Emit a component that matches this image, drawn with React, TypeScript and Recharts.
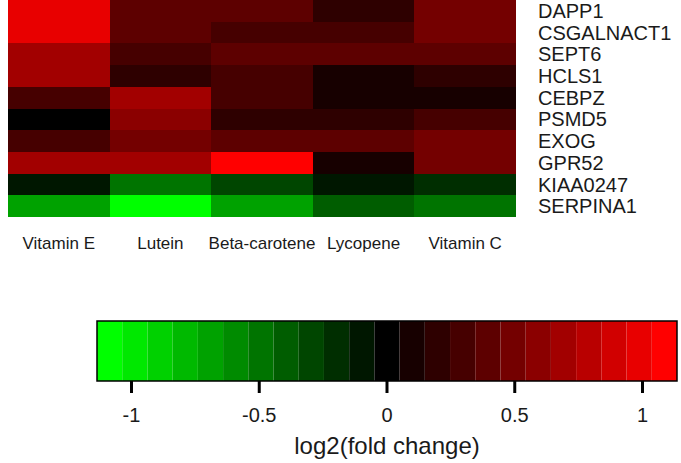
import {
  Bar,
  BarChart,
  Cell,
  ComposedChart,
  Label,
  ReferenceArea,
  XAxis,
  YAxis,
} from "recharts";

const COMPOUNDS = ["Vitamin E", "Lutein", "Beta-carotene", "Lycopene", "Vitamin C"];
const GENES = [
  "DAPP1",
  "CSGALNACT1",
  "SEPT6",
  "HCLS1",
  "CEBPZ",
  "PSMD5",
  "EXOG",
  "GPR52",
  "KIAA0247",
  "SERPINA1",
];

// log2 fold change, one list per compound, in gene order
const VITAMIN_E = [0.99, 0.99, 0.69, 0.69, 0.28, 0, 0.28, 0.69, -0.1, -0.69];
const LUTEIN = [0.4, 0.4, 0.3, 0.2, 0.69, 0.6, 0.5, 0.69, -0.5, -1.1];
const BETA_CAROTENE = [0.4, 0.3, 0.4, 0.3, 0.3, 0.2, 0.4, 1.1, -0.3, -0.69];
const LYCOPENE = [0.2, 0.3, 0.4, 0.1, 0.1, 0.2, 0.4, 0.1, -0.1, -0.4];
const VITAMIN_C = [0.5, 0.5, 0.4, 0.2, 0.1, 0.3, 0.5, 0.5, -0.2, -0.5];

const SCALE_TICKS = [-1, -0.5, 0, 0.5, 1];
const SCALE_MAX = 1.135;
const SCALE_STEPS = 23;

const FONT = "'Liberation Sans', Arial, sans-serif";
const TEXT = "#1a1a1a";

const STEP = (2 * SCALE_MAX) / SCALE_STEPS;
const MID = (SCALE_STEPS - 1) / 2;

// green - black - red, binned like the legend
function colorFor(v: number) {
  const k = Math.min(SCALE_STEPS - 1, Math.max(0, Math.floor((v + SCALE_MAX) / STEP)));
  const d = k - MID;
  const c = Math.round((Math.abs(d) / MID) * 255);
  return d >= 0 ? `rgb(${c},0,0)` : `rgb(0,${c},0)`;
}

const SERIES: Record<string, number[]> = {
  "Vitamin E": VITAMIN_E,
  Lutein: LUTEIN,
  "Beta-carotene": BETA_CAROTENE,
  Lycopene: LYCOPENE,
  "Vitamin C": VITAMIN_C,
};

const rows = GENES.map((gene, i) => {
  const row: Record<string, string | number> = { gene };
  COMPOUNDS.forEach((c) => (row[c] = SERIES[c][i]));
  return row;
});

const segments = Array.from({ length: SCALE_STEPS }, (_, k) => ({
  x1: -SCALE_MAX + k * STEP,
  x2: -SCALE_MAX + (k + 1) * STEP,
  y: 0.5,
  fill: colorFor(-SCALE_MAX + (k + 0.5) * STEP),
}));

export default function App() {
  return (
    <div
      style={{
        position: "absolute",
        left: 0,
        top: 0,
        width: 681,
        height: 463,
        background: "#fff",
        fontFamily: FONT,
      }}
    >
      <div style={{ position: "absolute", left: 0, top: 0 }}>
        <BarChart
          width={681}
          height={270}
          data={rows}
          layout="vertical"
          barCategoryGap={0}
          margin={{ top: 0, left: 8, right: 15, bottom: 23 }}
        >
          <XAxis
            type="number"
            domain={[0, 5]}
            ticks={[0.5, 1.5, 2.5, 3.5, 4.5]}
            tickFormatter={(v: number) => COMPOUNDS[Math.floor(v)]}
            axisLine={false}
            tickLine={false}
            tickSize={0}
            tickMargin={20}
            height={30}
            interval={0}
            tick={{ fill: TEXT, fontSize: 17, fontFamily: FONT }}
          />
          <YAxis
            type="category"
            dataKey="gene"
            orientation="right"
            width={150}
            axisLine={false}
            tickLine={false}
            tickSize={0}
            tickMargin={22}
            interval={0}
            tick={{ fill: TEXT, fontSize: 20, fontFamily: FONT }}
          />
          {COMPOUNDS.map((c) => (
            <Bar
              key={c}
              name={c}
              dataKey={() => 1}
              stackId="cells"
              isAnimationActive={false}
              style={{ shapeRendering: "crispEdges" }}
            >
              {rows.map((r) => (
                <Cell key={`${c}-${r.gene}`} fill={colorFor(r[c] as number)} />
              ))}
            </Bar>
          ))}
        </BarChart>
      </div>

      <div style={{ position: "absolute", left: 0, top: 0 }}>
        <ComposedChart
          width={681}
          height={463}
          data={segments}
          margin={{ top: 321, left: 97, right: 4, bottom: 12 }}
        >
          <XAxis
            type="number"
            dataKey="x1"
            domain={[-SCALE_MAX, SCALE_MAX]}
            ticks={SCALE_TICKS}
            interval={0}
            allowDataOverflow
            axisLine={false}
            tickSize={12}
            tickMargin={15}
            height={70}
            tickLine={{ stroke: "#000", strokeWidth: 3 }}
            tick={{ fill: TEXT, fontSize: 20, fontFamily: FONT }}
          >
            <Label
              value="log2(fold change)"
              position="insideTop"
              offset={56}
              style={{ fill: TEXT, fontSize: 24, fontFamily: FONT }}
            />
          </XAxis>
          <YAxis type="number" dataKey="y" domain={[0, 1]} allowDataOverflow hide />
          {segments.map((s, i) => (
            <ReferenceArea
              key={i}
              x1={s.x1}
              x2={s.x2}
              y1={0}
              y2={1}
              fill={s.fill}
              fillOpacity={1}
              stroke="none"
              ifOverflow="visible"
            />
          ))}
          <ReferenceArea
            x1={-SCALE_MAX}
            x2={SCALE_MAX}
            y1={0}
            y2={1}
            fill="none"
            stroke="#000"
            strokeWidth={1.5}
            ifOverflow="visible"
          />
        </ComposedChart>
      </div>
    </div>
  );
}
